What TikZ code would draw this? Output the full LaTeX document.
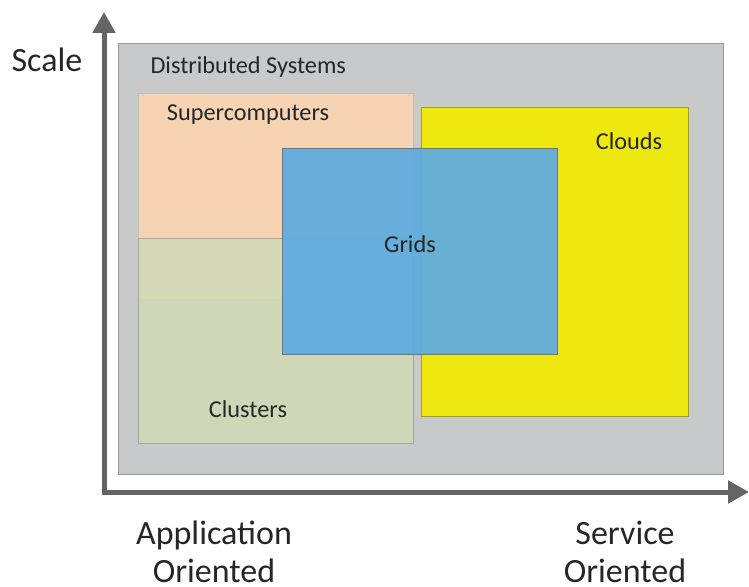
\documentclass[tikz,border=0pt]{standalone}
\usepackage{fontspec}
\setmainfont{Carlito}
\usetikzlibrary{arrows.meta}
\definecolor{sysgray}{RGB}{200,201,203}
\definecolor{supercol}{RGB}{245,211,179}
\definecolor{clustcol}{RGB}{208,217,182}
\definecolor{cloudcol}{RGB}{238,232,17}
\definecolor{gridcol}{RGB}{95,172,224}
\definecolor{axiscol}{RGB}{100,100,100}
\definecolor{txtcol}{RGB}{38,38,38}
\newcommand{\smallsize}{\fontsize{24.3}{29}\selectfont}
\newcommand{\bigsize}{\fontsize{34}{38}\selectfont}

\begin{document}
\begin{tikzpicture}[x=1pt, y=-1pt, >={Triangle[length=21pt, width=22pt]}]
    \useasboundingbox (0,0) rectangle (749,586);
    \coordinate (O) at (104, 492);
    \coordinate (Ytop) at (104, 12);
    \coordinate (Xend) at (749, 492);

    % color
    \fill[sysgray, draw=black!40] (118, 43) rectangle (723, 474);
    \fill[supercol, draw=black!25] (138, 93) rectangle (413, 299);
    \fill[clustcol, fill opacity=0.88, draw=black!35] (138, 238) rectangle (413, 443);
    \fill[cloudcol, draw=black!30!cloudcol] (421, 107) rectangle (688, 416);
    \fill[gridcol, fill opacity=0.94, draw=black!55] (282, 148) rectangle (557, 354);

    % axes
    \draw[->, line width=5pt, axiscol] (O) -- (Ytop);
    \draw[->, line width=5pt, axiscol] ([xshift=-2.5pt]O) -- (Xend);

    % labels
    \node [txtcol, anchor=west, font=\smallsize] (dist) at (147, 67) {Distributed Systems};
    \node [txtcol, font=\smallsize] (super) at (248, 115) {Supercomputers};
    \node [txtcol, font=\smallsize] (clust) at (248, 409) {Clusters};
    \node [txtcol, font=\smallsize] (cloud) at (629, 141) {Clouds};
    \node [txtcol, font=\smallsize] (grid) at (410, 244) {Grids};
    \node [txtcol, font=\bigsize] (scale) at (47, 60) {Scale};
    \node [txtcol, font=\bigsize, align=center, inner sep=0pt] (appl) at (214, 552) {Application\\Oriented};
    \node [txtcol, font=\bigsize, align=center, inner sep=0pt] (serv) at (625, 552) {Service\\Oriented};
\end{tikzpicture}
\end{document}
